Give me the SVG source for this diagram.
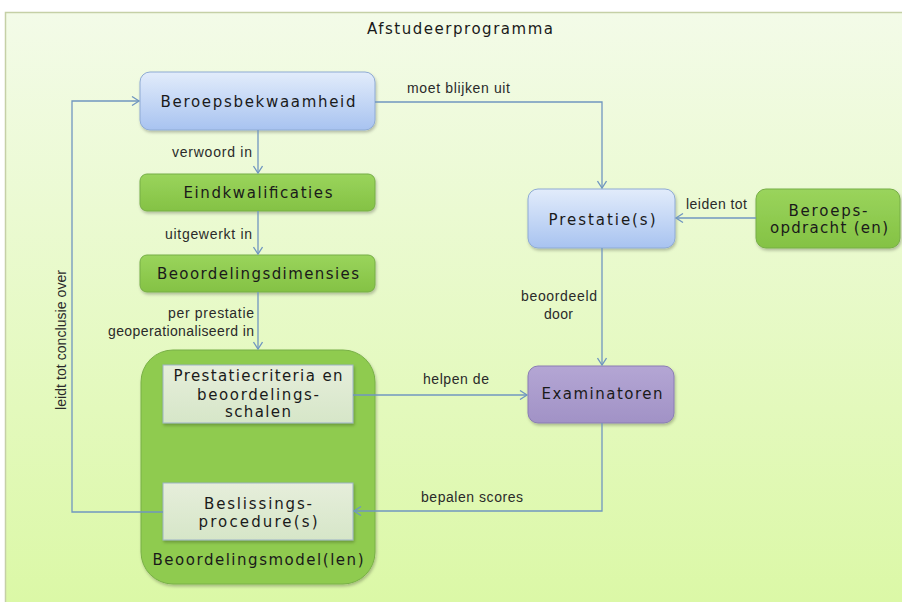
<svg xmlns="http://www.w3.org/2000/svg" width="902" height="602" viewBox="0 0 902 602">
<style>
.node{font-family:"DejaVu Sans","Verdana",sans-serif;font-size:15px;fill:#1a1a1a;text-anchor:middle}
.lbl{font-family:"Liberation Sans","Arial",sans-serif;font-size:14px;fill:#2a2a2a}
.conn{fill:none;stroke:#7096c0;stroke-width:1.3}
</style>
<defs>
<linearGradient id="bg" x1="0" y1="0" x2="0" y2="1"><stop offset="0" stop-color="#f3fbe8"/><stop offset="1" stop-color="#dbf8a6"/></linearGradient>
<linearGradient id="blue" x1="0" y1="0" x2="0" y2="1"><stop offset="0" stop-color="#e2ecfb"/><stop offset="1" stop-color="#a8c3f0"/></linearGradient>
<linearGradient id="green" x1="0" y1="0" x2="0" y2="1"><stop offset="0" stop-color="#9ad45c"/><stop offset="1" stop-color="#84c244"/></linearGradient>
<linearGradient id="pale" x1="0" y1="0" x2="0" y2="1"><stop offset="0" stop-color="#e6eedb"/><stop offset="1" stop-color="#d6e6c8"/></linearGradient>
<linearGradient id="purple" x1="0" y1="0" x2="0" y2="1"><stop offset="0" stop-color="#b4a6d4"/><stop offset="1" stop-color="#a192c6"/></linearGradient>
<filter id="sh" x="-10%" y="-10%" width="120%" height="130%"><feDropShadow dx="1" dy="2" stdDeviation="1.5" flood-color="#000" flood-opacity="0.25"/></filter>
<marker id="arr" markerWidth="10" markerHeight="10" refX="8" refY="5" orient="auto" markerUnits="userSpaceOnUse"><path d="M1,0.5 L8,5 L1,9.5" fill="none" stroke="#7096c0" stroke-width="1.3"/></marker>
</defs>
<rect x="0" y="0" width="902" height="602" fill="#ffffff"/>
<rect x="5.5" y="12.5" width="900" height="594" fill="url(#bg)" stroke="#c5d0a6" stroke-width="1.5"/>
<text x="460" y="34" class="node" textLength="186" lengthAdjust="spacing">Afstudeerprogramma</text>

<g id="beroepsbekwaamheid">
<rect x="140" y="72" width="235" height="58" rx="10" fill="url(#blue)" stroke="#8eaad4" stroke-width="1" filter="url(#sh)"/>
<text class="node" x="258" y="107" textLength="195" lengthAdjust="spacing">Beroepsbekwaamheid</text>
</g>
<g id="eindkwalificaties">
<rect x="140" y="174" width="235" height="37" rx="7" fill="url(#green)" stroke="#76ae46" stroke-width="1" filter="url(#sh)"/>
<text class="node" x="258" y="198" textLength="149" lengthAdjust="spacing">Eindkwalificaties</text>
</g>
<g id="beoordelingsdimensies">
<rect x="140" y="255" width="235" height="37" rx="7" fill="url(#green)" stroke="#76ae46" stroke-width="1" filter="url(#sh)"/>
<text class="node" x="258" y="279" textLength="202" lengthAdjust="spacing">Beoordelingsdimensies</text>
</g>
<g id="beoordelingsmodellen">
<rect x="141" y="350" width="234" height="234" rx="32" fill="#8fcb50" stroke="#78b046" stroke-width="1" filter="url(#sh)"/>
<text class="node" x="258" y="565" textLength="211" lengthAdjust="spacing">Beoordelingsmodel(len)</text>
</g>
<g id="prestatiecriteria">
<rect x="163" y="365" width="190" height="58" fill="url(#pale)" stroke="#9db3c6" stroke-width="1" filter="url(#sh)"/>
<text class="node" x="258" y="381" textLength="169" lengthAdjust="spacing">Prestatiecriteria en</text>
<text class="node" x="258" y="400" textLength="122" lengthAdjust="spacing">beoordelings-</text>
<text class="node" x="258" y="417" textLength="66" lengthAdjust="spacing">schalen</text>
</g>
<g id="beslissingsprocedure">
<rect x="163" y="483" width="190" height="57" fill="url(#pale)" stroke="#9db3c6" stroke-width="1" filter="url(#sh)"/>
<text class="node" x="258" y="509" textLength="108" lengthAdjust="spacing">Beslissings-</text>
<text class="node" x="258" y="527" textLength="119" lengthAdjust="spacing">procedure(s)</text>
</g>
<g id="prestaties">
<rect x="528" y="189" width="147" height="59" rx="10" fill="url(#blue)" stroke="#8eaad4" stroke-width="1" filter="url(#sh)"/>
<text class="node" x="602" y="225" textLength="107" lengthAdjust="spacing">Prestatie(s)</text>
</g>
<g id="beroepsopdrachten">
<rect x="756" y="189" width="144" height="59" rx="10" fill="url(#green)" stroke="#76ae46" stroke-width="1" filter="url(#sh)"/>
<text class="node" x="828" y="216" textLength="79" lengthAdjust="spacing">Beroeps-</text>
<text class="node" x="829" y="233" textLength="118" lengthAdjust="spacing">opdracht (en)</text>
</g>
<g id="examinatoren">
<rect x="528" y="366" width="146" height="57" rx="10" fill="url(#purple)" stroke="#8a7db4" stroke-width="1" filter="url(#sh)"/>
<text class="node" x="602" y="399" textLength="121" lengthAdjust="spacing">Examinatoren</text>
</g>

<g id="connectors">
<path class="conn" d="M375,102 H602 V188" marker-end="url(#arr)"/>
<path class="conn" d="M258,130 V173" marker-end="url(#arr)"/>
<path class="conn" d="M258,211 V254" marker-end="url(#arr)"/>
<path class="conn" d="M258,292 V349" marker-end="url(#arr)"/>
<path class="conn" d="M756,218 H676" marker-end="url(#arr)"/>
<path class="conn" d="M602,248 V365" marker-end="url(#arr)"/>
<path class="conn" d="M353,395 H527" marker-end="url(#arr)"/>
<path class="conn" d="M602,423 V511 H354" marker-end="url(#arr)"/>
<path class="conn" d="M163,512 H72 V101 H139" marker-end="url(#arr)"/>
<text class="lbl" x="407" y="93" textLength="103" lengthAdjust="spacing">moet blijken uit</text>
<text class="lbl" x="172" y="157" textLength="80" lengthAdjust="spacing">verwoord in</text>
<text class="lbl" x="165" y="239" textLength="87" lengthAdjust="spacing">uitgewerkt in</text>
<text class="lbl" x="168" y="318" textLength="86" lengthAdjust="spacing">per prestatie</text>
<text class="lbl" x="108" y="336" textLength="146" lengthAdjust="spacing">geoperationaliseerd in</text>
<text class="lbl" x="686" y="209" textLength="61" lengthAdjust="spacing">leiden tot</text>
<text class="lbl" x="521" y="301" textLength="76" lengthAdjust="spacing">beoordeeld</text>
<text class="lbl" x="544" y="319" textLength="29" lengthAdjust="spacing">door</text>
<text class="lbl" x="423" y="384" textLength="66" lengthAdjust="spacing">helpen de</text>
<text class="lbl" x="421" y="502" textLength="102" lengthAdjust="spacing">bepalen scores</text>
<text class="lbl" transform="translate(66,410) rotate(-90)" x="0" y="0" textLength="140" lengthAdjust="spacing">leidt tot conclusie over</text>
</g>
</svg>
